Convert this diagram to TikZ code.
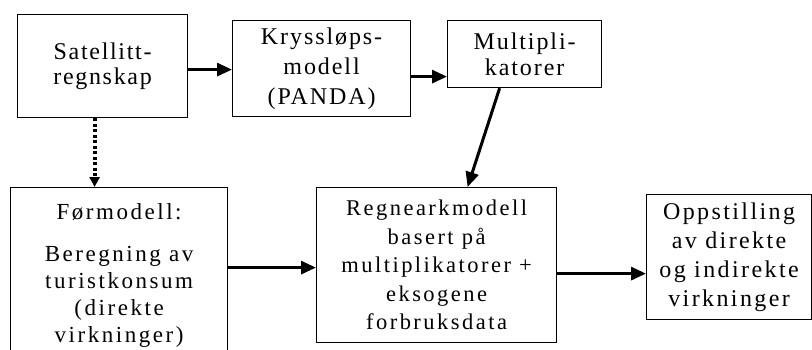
\documentclass[tikz,border=0pt]{standalone}
\usepackage{fontspec}
\setmainfont{Liberation Serif}
\usetikzlibrary{arrows.meta}
\begin{document}
\begin{tikzpicture}[x=1pt,y=-1pt,
  box/.style={draw, line width=1.2pt, rectangle, anchor=north west, align=center, inner sep=0pt},
  tf/.style n args={3}{font=\fontsize{#1}{#2}\selectfont\addfontfeatures{LetterSpace=#3}},
  arr/.style={line width=3pt, -{Triangle[length=15pt,width=13pt]}},
  dotarr/.style={line width=4pt, dash pattern=on 3pt off 2.5pt, -{Triangle[length=10pt,width=10pt]}},
]
\useasboundingbox (0,0) rectangle (812,349);
\node[box, tf={24}{25}{7}, minimum width=170pt, minimum height=103pt] (s) at (17,14) {Satellitt-\\regnskap};
\node[box, tf={24}{30}{8}, minimum width=178pt, minimum height=96pt] (k) at (232,20) {Kryssløps-\\modell\\(PANDA)};
\node[box, tf={24}{26}{8}, minimum width=154pt, minimum height=67pt] (m) at (447,20) {Multipli-\\katorer};
\node[box, tf={23}{27}{11}, minimum width=217pt, minimum height=175pt] (f) at (10,187) {Førmodell:\\[15pt]Beregning av\\turistkonsum\\(direkte\\virkninger)};
\node[box, tf={22.5}{28.5}{11}, minimum width=240pt, minimum height=155pt] (r) at (316,187) {Regnearkmodell\\basert på\\multiplikatorer +\\eksogene\\forbruksdata};
\node[box, tf={24}{29}{10}, minimum width=165pt, minimum height=125pt] (o) at (646,194) {Oppstilling\\av direkte\\og indirekte\\virkninger};
\draw[arr] ([yshift=-3.5pt]s.east) -- ([yshift=-3.5pt]s.east -| k.west);
\draw[arr] ([yshift=-8pt]k.east) -- ([yshift=-8pt]k.east -| m.west);
\draw[arr] ([xshift=-25pt]m.south) -- ([xshift=31pt]r.north);
\draw[dotarr] ([xshift=-8pt]s.south) -- ([xshift=-8pt]s.south |- f.north);
\draw[arr] ([yshift=7.5pt]f.east) -- ([yshift=7.5pt]f.east -| r.west);
\draw[arr] ([yshift=-8.5pt]r.east) -- ([yshift=-8.5pt]r.east -| o.west);
\end{tikzpicture}
\end{document}
